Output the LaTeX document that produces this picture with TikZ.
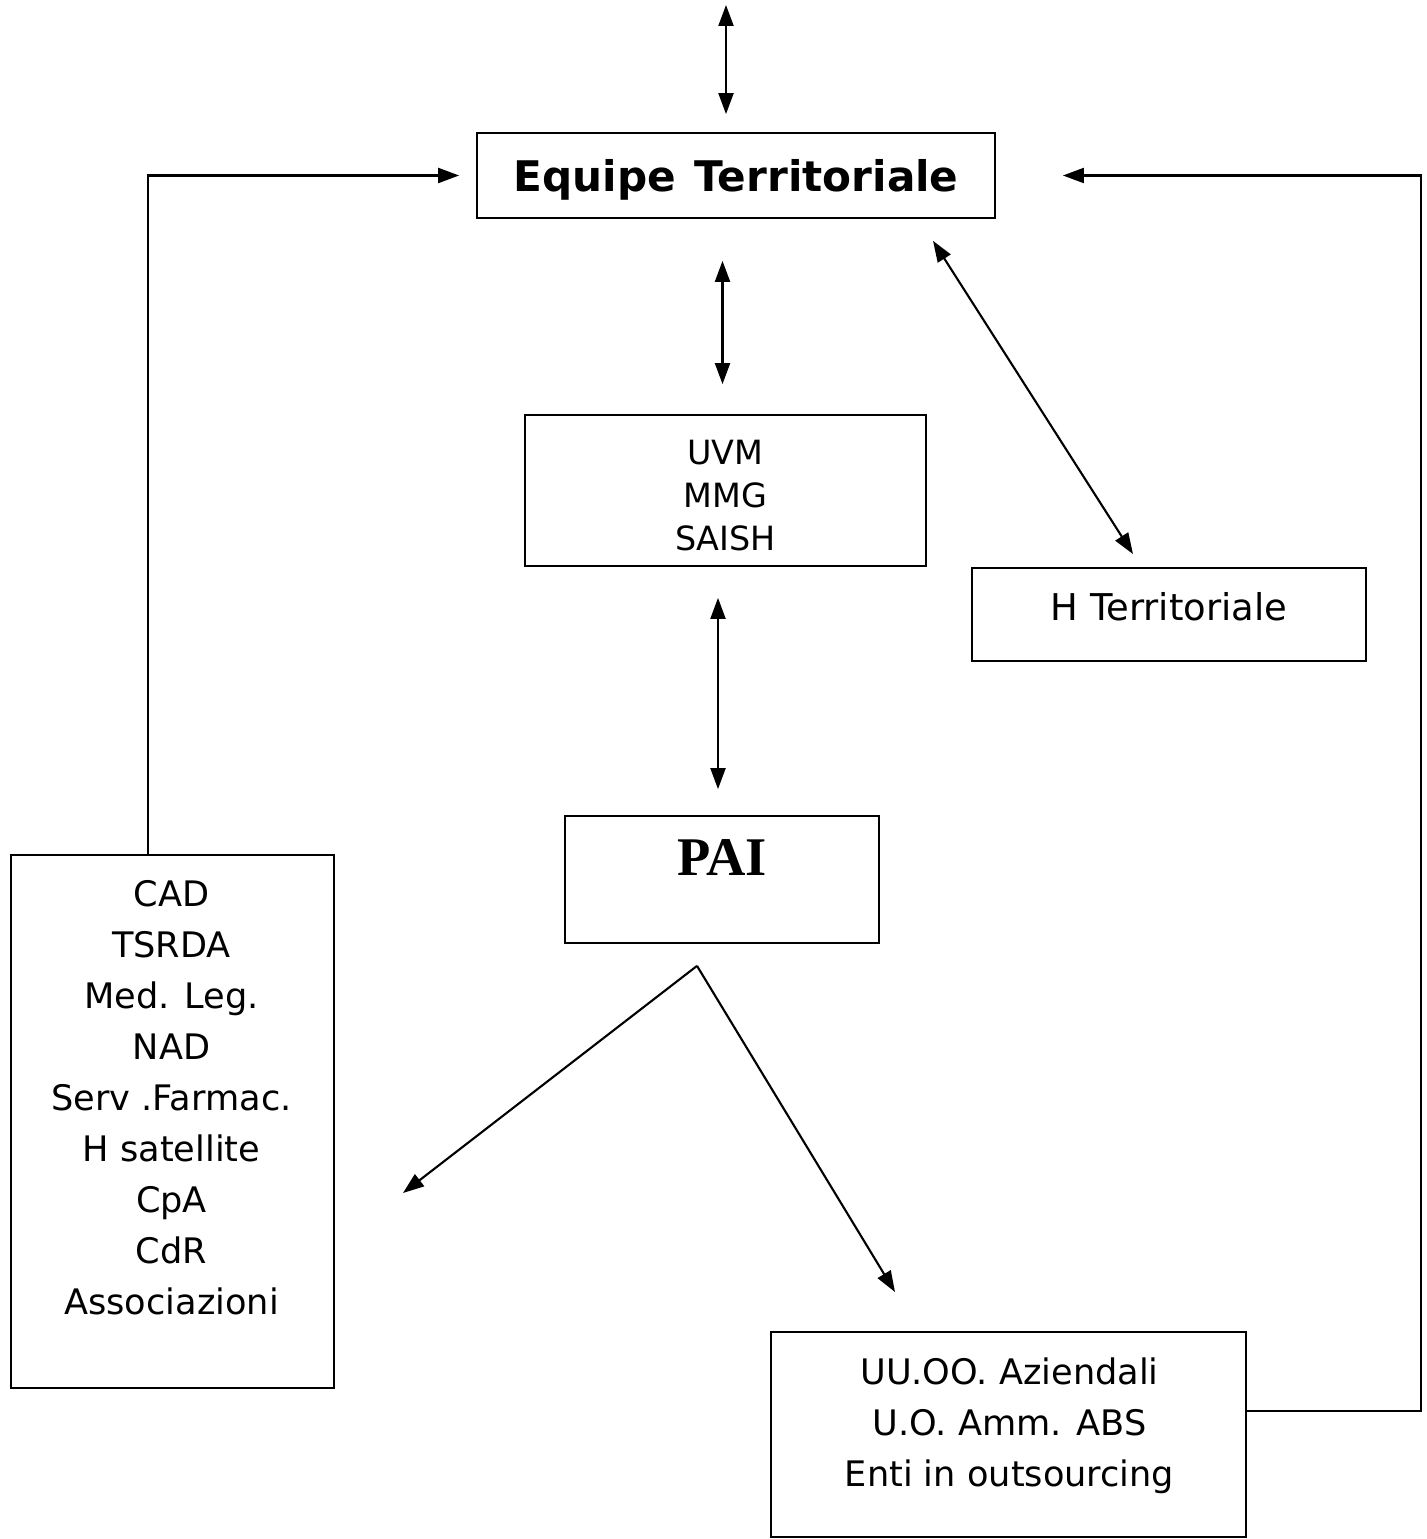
\documentclass[tikz,border=0pt]{standalone}
\usepackage{fontspec}
\setmainfont{DejaVu Sans}
\newfontfamily\paifont{Liberation Serif}
\usetikzlibrary{arrows.meta,positioning}

\begin{document}
\begin{tikzpicture}[>={Triangle[length=0.21cm,width=0.15cm]}, line width=0.6pt]
\tikzstyle{box}=[draw=black, line width=0.5pt, inner sep=0pt, align=center]
\tikzstyle{voce}=[font=\fontsize{10}{14.5}\selectfont, align=center]
\useasboundingbox (0,0) rectangle (14.27,-15.39);
% caselle
\node[box, minimum width=5.18cm, minimum height=0.85cm, text depth=0pt, font=\fontsize{12}{14}\selectfont\bfseries] (equipe) at (7.36,-1.755) {Equipe\hspace{0.45em}Territoriale};
\node[box, minimum width=4.01cm, minimum height=1.51cm] (uvm) at (7.255,-4.905) {};
\node[font=\fontsize{9.5}{12.2}\selectfont, align=center] (uvmtxt) at ([yshift=-0.05cm]uvm.center) {UVM\\MMG\\SAISH};
\node[box, minimum width=3.94cm, minimum height=0.93cm, text depth=0.16cm, font=\fontsize{10.5}{13}\selectfont] (hter) at (11.69,-6.145) {H Territoriale};
\node[box, minimum width=3.14cm, minimum height=1.27cm] (pai) at (7.22,-8.795) {};
\node[font=\fontsize{15.5}{17}\selectfont\paifont\bfseries] (paitxt) at (7.22,-8.58) {PAI};
\node[box, minimum width=3.23cm, minimum height=5.33cm] (servizi) at (1.725,-11.215) {};
\node[voce] (servizitxt) at ([xshift=-0.01cm,yshift=0.24cm]servizi.center) {CAD\\TSRDA\\Med. Leg.\\NAD\\Serv .Farmac.\\H satellite\\CpA\\CdR\\Associazioni};
\node[box, minimum width=4.75cm, minimum height=2.05cm] (uuoo) at (10.085,-14.345) {};
\node[voce] (uuootxt) at ([xshift=0.01cm,yshift=0.09cm]uuoo.center) {UU.OO. Aziendali\\U.O. Amm. ABS\\Enti in outsourcing};
% estremi liberi
\coordinate (sopra) at (7.26,-0.05);
\coordinate (apice) at ([xshift=-0.25cm,yshift=-0.22cm]pai.south);
\coordinate (versosx) at (4.03,-11.93);
\coordinate (versodx) at (8.95,-12.92);
% frecce
\draw[<->, shorten >=0.18cm] (sopra) -- (sopra |- equipe.north);
\draw[<->, shorten <=0.30cm, shorten >=0.42cm] ([xshift=-0.03cm]uvm.north) -- ([xshift=-0.03cm]uvm.north |- equipe.south);
\draw[<->, shorten <=0.26cm, shorten >=0.31cm] ([xshift=-0.04cm]pai.north) -- ([xshift=-0.04cm]pai.north |- uvm.south);
\draw[<->] ([xshift=1.97cm,yshift=-0.22cm]equipe.south) -- ([xshift=-0.36cm,yshift=0.13cm]hter.north);
\draw[->] (apice) -- (versosx);
\draw[->] (apice) -- (versodx);
\draw[->, shorten >=0.17cm] ([xshift=-0.245cm]servizi.north) |- (equipe.west);
\draw[->, shorten >=0.67cm] ([yshift=0.235cm]uuoo.east) -- ++(1.74,0) |- (equipe.east);
\end{tikzpicture}
\end{document}
